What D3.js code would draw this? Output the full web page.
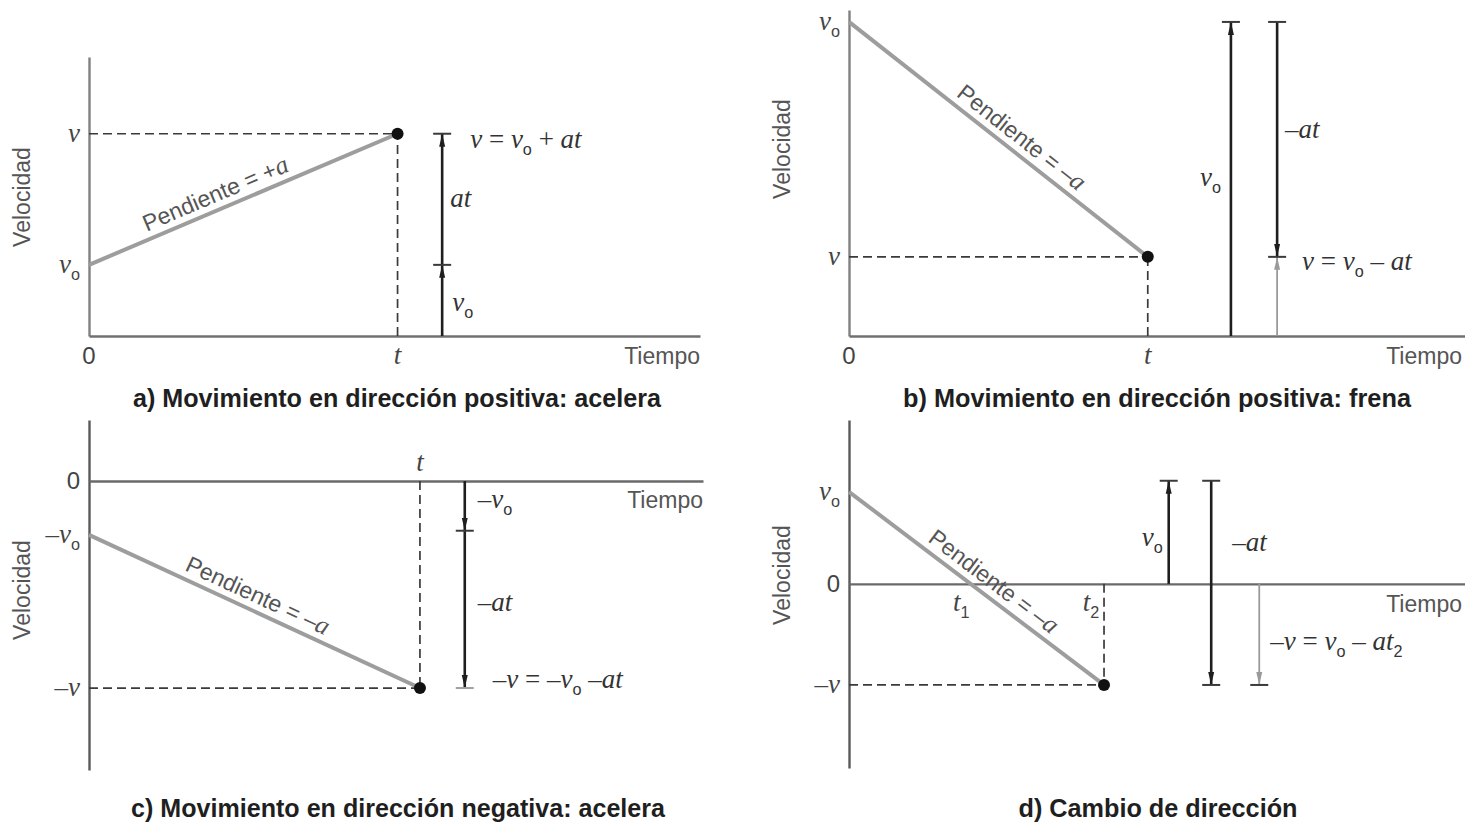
<!DOCTYPE html>
<html>
<head>
<meta charset="utf-8">
<script src="https://cdn.jsdelivr.net/npm/d3@7"></script>
<style>
  html, body { margin: 0; padding: 0; background: #fff; }
  svg { display: block; }
</style>
</head>
<body>
<svg id="chart" width="1465" height="822"></svg>
<script>
// ---------- values ----------
const titles = [
  "a) Movimiento en dirección positiva: acelera",
  "b) Movimiento en dirección positiva: frena",
  "c) Movimiento en dirección negativa: acelera",
  "d) Cambio de dirección"
];
const timeExtent = [0, 10];
// velocity axis extent [min, max] for each panel
const velocityExtent = [[0, 10], [0, 10.38], [-13.96, 2.95], [-10, 8.9]];
// velocity at t = 0, velocity at the marked instant, and that instant
const startVelocity = [2.55, 10, -2.6, 5];
const endVelocity = [7.25, 2.52, -10, -5.49];
const endTime = [5.05, 4.85, 5.39, 4.14];
const slopeLabels = ["Pendiente = +*a*", "Pendiente = –*a*", "Pendiente = –*a*", "Pendiente = –*a*"];

// labels on the velocity axis: [velocity, text]
const yLabelsA = [[7.25, "*v*"], [2.55, "*v*_o"]];
const yLabelsB = [[10, "*v*_o"], [2.52, "*v*"]];
const yLabelsC = [[0, "0"], [-2.6, "–*v*_o"], [-10, "–*v*"]];
const yLabelsD = [[5, "*v*_o"], [0, "0"], [-5.49, "–*v*"]];
// labels on the time axis: [time, text]
const xLabelsA = [[0, "0"], [5.05, "*t*"]];
const xLabelsB = [[0, "0"], [4.85, "*t*"]];
const xLabelsC = [[5.39, "*t*"]];
const xLabelsD = [[1.97, "*t*_1"], [4.14, "*t*_2"]];

// velocity vectors: [time, from velocity, to velocity, tone]
const arrowsA = [[5.78, 0, 2.55, "dark"], [5.78, 2.55, 7.25, "dark"]];
const arrowsB = [[6.2, 0, 10, "dark"], [6.95, 10, 2.52, "dark"], [6.95, 0, 2.52, "light"]];
const arrowsC = [[6.12, 0, -2.4, "dark"], [6.12, -2.4, -10, "dark"]];
const arrowsD = [[5.19, 0, 5.6, "dark"], [5.88, 5.6, -5.49, "dark"], [6.66, 0, -5.49, "light"]];
// end caps of the vectors: [time, velocity, tone]
const capsA = [[5.78, 2.55, "dark"], [5.78, 7.25, "dark"]];
const capsB = [[6.2, 10, "dark"], [6.95, 10, "dark"], [6.95, 2.52, "dark"]];
const capsC = [[6.12, -2.4, "dark"], [6.12, -10, "light"]];
const capsD = [[5.19, 5.6, "dark"], [5.88, 5.6, "dark"], [5.88, -5.49, "dark"], [6.66, -5.49, "dark"]];

// vector annotations: [time, velocity, text]
const notesA = [[5.78, 7.25, "*v* = *v*_o + *at*"], [5.78, 4.9, "*at*"], [5.78, 1.2, "*v*_o"]];
const notesB = [[6.2, 5.03, "*v*_o"], [6.95, 6.56, "–*at*"], [6.95, 2.52, "*v* = *v*_o – *at*"]];
const notesC = [[6.12, -0.92, "–*v*_o"], [6.12, -5.9, "–*at*"], [6.12, -10, "–*v* = –*v*_o –*at*"]];
const notesD = [[5.19, 2.5, "*v*_o"], [5.88, 2.23, "–*at*"], [6.66, -3.15, "–*v* = *v*_o – *at*_2"]];

// ---------- layout ----------
const layout = [
  { x0: 89,  x1: 700,  yTop: 57,  yBottom: 336, tiempo: [0, 20], vel: [22, 197], title: [397, 398, 528],
    slopeAt: 0.43, noteOffsets: [[28, 6, "start"], [8, 0, "start"], [10, 0, "start"]], xShift: [0, 0], xDy: 20 },
  { x0: 849, x1: 1465, yTop: 10,  yBottom: 336, tiempo: [-3, 20], vel: [782, 149], title: [1157, 398, 508],
    slopeAt: 0.545, noteOffsets: [[-10, 0, "end"], [8, 0, "start"], [25, 5, "start"]], xShift: [0, 0], xDy: 20 },
  { x0: 89,  x1: 703,  yTop: 420, yBottom: 770, tiempo: [0, 19], vel: [22, 590], title: [398, 808, 534],
    slopeAt: 0.49, noteOffsets: [[13, 0, "start"], [13, 0, "start"], [28, -8, "start"]], xShift: [0], xDy: -18 },
  { x0: 849, x1: 1465, yTop: 420, yBottom: 768, tiempo: [-3, 20], vel: [782, 575], title: [1158, 808, 279],
    slopeAt: 0.53, noteOffsets: [[-6, 0, "end"], [21, 0, "start"], [11, 0, "start"]], xShift: [-9, -13], xDy: 19 }
];
const yLabels = [yLabelsA, yLabelsB, yLabelsC, yLabelsD];
const xLabels = [xLabelsA, xLabelsB, xLabelsC, xLabelsD];
const arrows = [arrowsA, arrowsB, arrowsC, arrowsD];
const caps = [capsA, capsB, capsC, capsD];
const notes = [notesA, notesB, notesC, notesD];

const SANS = "'Liberation Sans', Arial, Helvetica, sans-serif";
const SANS_NARROW = "'Liberation Sans Narrow', 'Arial Narrow', 'Liberation Sans', sans-serif";
const SERIF = "'Liberation Serif', 'Times New Roman', serif";
const MATH_SIZE = 27;
const SANS_SIZE = 23;
const DARK = "#1e1e1e";
const LIGHT = "#9a9a9a";

const svg = d3.select("#chart");

// arrow heads
const defs = svg.append("defs");
[["head-dark", DARK], ["head-light", LIGHT]].forEach(([id, col]) => {
  defs.append("marker")
    .attr("id", id)
    .attr("viewBox", "0 -4 13 8")
    .attr("refX", 13).attr("refY", 0)
    .attr("markerWidth", 13).attr("markerHeight", 8)
    .attr("markerUnits", "userSpaceOnUse")
    .attr("orient", "auto")
    .append("path")
    .attr("d", "M0,-3L13,0L0,3Z")
    .attr("fill", col);
});

// Splits marked-up text into runs: *...* is italic serif, _x is a subscript,
// digits are upright sans, other symbols are upright serif.
function parseRich(str, base) {
  const runs = [];
  let italic = false;
  for (let i = 0; i < str.length; i++) {
    const c = str[i];
    if (c === "*") { italic = !italic; continue; }
    let kind;
    if (c === "_") { kind = "sub"; i++; }
    else if (italic) kind = "it";
    else if (/[0-9]/.test(c)) kind = "sans";
    else kind = base;
    const ch = str[i];
    const last = runs[runs.length - 1];
    if (last && last.kind === kind && kind !== "sub") last.text += ch;
    else runs.push({ kind, text: ch });
  }
  return runs;
}

function richText(parent, str, opts) {
  const size = opts.size || MATH_SIZE;
  const base = opts.base || "serif";
  const t = parent.append("text")
    .attr("x", opts.x).attr("y", opts.y)
    .attr("text-anchor", opts.anchor || "start")
    .attr("fill", opts.color || "#333")
    .style("white-space", "pre");
  if (opts.transform) t.attr("transform", opts.transform);
  const subDrop = size * 0.26;
  let lowered = false;
  parseRich(str, base).forEach(r => {
    const s = t.append("tspan").text(r.text);
    if (r.kind === "it") {
      s.attr("font-family", SERIF).attr("font-style", "italic").attr("font-size", size);
    } else if (r.kind === "serif") {
      s.attr("font-family", SERIF).attr("font-size", size);
    } else if (r.kind === "sans" || r.kind === "basesans") {
      s.attr("font-family", opts.sansFamily || SANS).attr("font-size", opts.sansSize || size * 0.9);
    } else if (r.kind === "sub") {
      s.attr("font-family", SANS).attr("font-size", size * 0.6);
    }
    if (r.kind === "sub" && !lowered) { s.attr("dy", subDrop); lowered = true; }
    else if (r.kind !== "sub" && lowered) { s.attr("dy", -subDrop); lowered = false; }
  });
  return t;
}

titles.forEach((title, i) => {
  const L = layout[i];
  const x = d3.scaleLinear().domain(timeExtent).range([L.x0, L.x1]);
  const y = d3.scaleLinear().domain(velocityExtent[i]).range([L.yBottom, L.yTop]);
  const g = svg.append("g");

  // axes: plain lines, no ticks
  const yAxis = g.append("g").attr("transform", `translate(${L.x0},0)`)
    .call(d3.axisLeft(y).tickValues([]).tickSizeOuter(0));
  const xAxis = g.append("g").attr("transform", `translate(0,${y(0)})`)
    .call(d3.axisBottom(x).tickValues([]).tickSizeOuter(0));
  yAxis.select(".domain").attr("stroke", i >= 2 ? "#5a5a5a" : "#808080").attr("stroke-width", 2.4);
  xAxis.select(".domain").attr("stroke", i >= 2 ? "#6a6a6a" : "#707070").attr("stroke-width", 2.4);

  const t1 = endTime[i], v1 = endVelocity[i];

  // guide lines from the end point to both axes
  g.append("line")
    .attr("x1", x(0)).attr("x2", x(t1))
    .attr("y1", y(v1)).attr("y2", y(v1))
    .attr("stroke", "#3a3a3a").attr("stroke-width", 1.7).attr("stroke-dasharray", "9,5");
  g.append("line")
    .attr("x1", x(t1)).attr("x2", x(t1))
    .attr("y1", y(0)).attr("y2", y(v1))
    .attr("stroke", "#3a3a3a").attr("stroke-width", 1.7).attr("stroke-dasharray", "9,5");

  // velocity line
  const line = d3.line().x(d => x(d[0])).y(d => y(d[1]));
  g.append("path")
    .datum([[0, startVelocity[i]], [t1, v1]])
    .attr("d", line)
    .attr("fill", "none").attr("stroke", "#9d9d9d").attr("stroke-width", 4);

  g.append("circle")
    .attr("cx", x(t1)).attr("cy", y(v1)).attr("r", 6)
    .attr("fill", "#111");

  // slope label along the line
  const px0 = x(0), py0 = y(startVelocity[i]), px1 = x(t1), py1 = y(v1);
  const ang = Math.atan2(py1 - py0, px1 - px0) * 180 / Math.PI;
  const mx = px0 + (px1 - px0) * L.slopeAt, my = py0 + (py1 - py0) * L.slopeAt;
  const sl = g.append("g").attr("transform", `translate(${mx},${my}) rotate(${ang})`);
  richText(sl, slopeLabels[i], { x: 0, y: -8, anchor: "middle", base: "basesans", size: 26,
    sansSize: 23, color: "#555" });

  // vectors
  arrows[i].forEach(([t, a, b, tone]) => {
    g.append("line")
      .attr("x1", x(t)).attr("x2", x(t))
      .attr("y1", y(a)).attr("y2", y(b))
      .attr("stroke", tone === "dark" ? DARK : LIGHT)
      .attr("stroke-width", tone === "dark" ? 2.6 : 1.8)
      .attr("marker-end", `url(#head-${tone})`);
  });
  caps[i].forEach(([t, v, tone]) => {
    g.append("line")
      .attr("x1", x(t) - 9).attr("x2", x(t) + 9)
      .attr("y1", y(v)).attr("y2", y(v))
      .attr("stroke", tone === "dark" ? "#3a3a3a" : "#a0a0a0").attr("stroke-width", 2);
  });

  // axis value labels
  yLabels[i].forEach(([v, txt]) => {
    richText(g, txt, { x: L.x0 - 9, y: y(v) + 8, anchor: "end", sansSize: 24, color: "#444" });
  });
  xLabels[i].forEach(([t, txt], k) => {
    richText(g, txt, { x: x(t) + (L.xShift[k] || 0), y: y(0) + L.xDy + 8, anchor: "middle",
      sansSize: 24, color: "#444" });
  });

  // vector annotations
  notes[i].forEach(([t, v, txt], k) => {
    const [dx, dy, anchor] = L.noteOffsets[k];
    richText(g, txt, { x: x(t) + dx, y: y(v) + dy + 8, anchor, color: "#333" });
  });

  // axis titles
  g.append("text")
    .attr("x", L.x1 + L.tiempo[0]).attr("y", y(0) + L.tiempo[1] + 8)
    .attr("text-anchor", "end")
    .attr("font-family", SANS).attr("font-size", SANS_SIZE).attr("fill", "#555")
    .text("Tiempo");
  g.append("text")
    .attr("transform", `translate(${L.vel[0] + 8},${L.vel[1]}) rotate(-90)`)
    .attr("text-anchor", "middle")
    .attr("font-family", SANS).attr("font-size", SANS_SIZE).attr("fill", "#555")
    .text("Velocidad");

  // panel caption
  g.append("text")
    .attr("x", L.title[0]).attr("y", L.title[1] + 9)
    .attr("text-anchor", "middle")
    .attr("font-family", SANS_NARROW).attr("font-weight", "bold")
    .attr("font-size", 26).attr("fill", "#1f1f1f")
    .attr("textLength", L.title[2]).attr("lengthAdjust", "spacingAndGlyphs")
    .text(title);
});
</script>
</body>
</html>
